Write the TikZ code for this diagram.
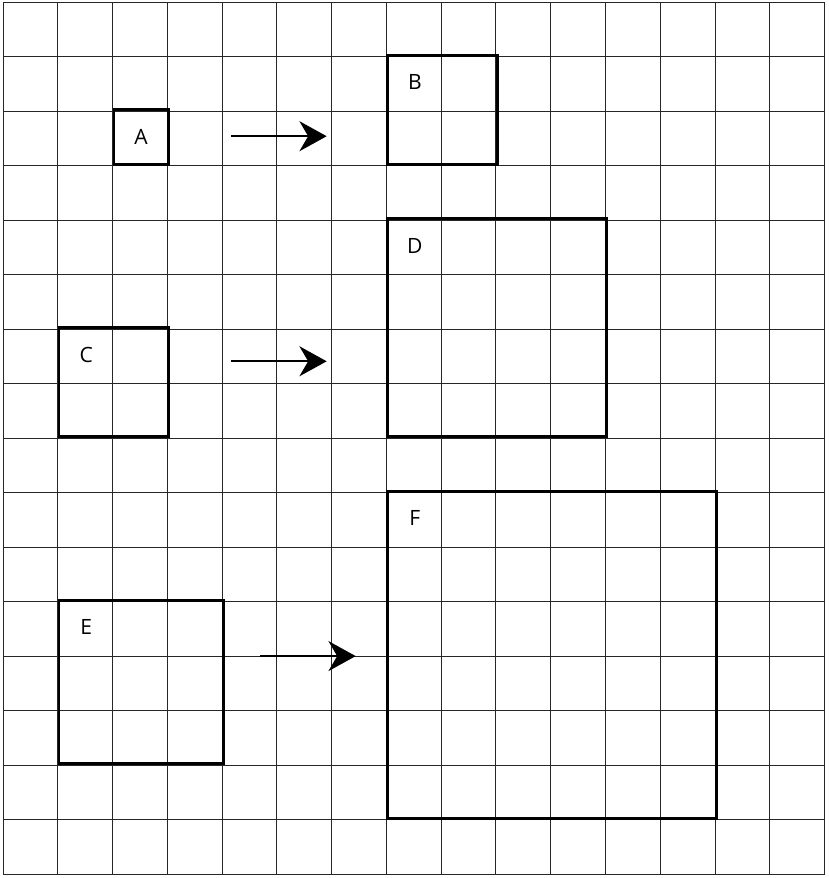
\documentclass[tikz,border=0pt]{standalone}
\usepackage{fontspec}
\setmainfont{Open Sans}
\usetikzlibrary{arrows.meta,positioning}
\newcommand{\CellWidth}{1.005}

\begin{document}
\begin{tikzpicture}[x=\CellWidth cm,
		square/.style={draw, line width=1.4pt, inner sep=0pt, anchor=south west},
		letter/.style={font=\fontsize{11}{13}\selectfont, inner sep=0pt},
		growarrow/.style={line width=1.2pt, -{Stealth[length=5mm, width=5.5mm, inset=1.6mm]}},
	]
	\useasboundingbox (-0.055,-0.072) rectangle (15.081,16.04);
	\draw[line width=0.5pt, black!85, step={(1,1)}] (0,0) grid (15,16);
	% squares
	\node[square, minimum width=\CellWidth*1 cm, minimum height=1 cm] (a) at (2,13) {};
	\node[square, minimum width=\CellWidth*2 cm, minimum height=2 cm] (b) at (7,13) {};
	\node[square, minimum width=\CellWidth*2 cm, minimum height=2 cm] (c) at (1,8) {};
	\node[square, minimum width=\CellWidth*4 cm, minimum height=4 cm] (d) at (7,8) {};
	\node[square, minimum width=\CellWidth*3 cm, minimum height=3 cm] (e) at (1,2) {};
	\node[square, minimum width=\CellWidth*6 cm, minimum height=6 cm] (f) at (7,1) {};
	% letters
	\node[letter] (la) at ([shift={(0.52,-0.52)}]a.north west) {A};
	\node[letter] (lb) at ([shift={(0.52,-0.52)}]b.north west) {B};
	\node[letter] (lc) at ([shift={(0.52,-0.52)}]c.north west) {C};
	\node[letter] (ld) at ([shift={(0.52,-0.52)}]d.north west) {D};
	\node[letter] (le) at ([shift={(0.52,-0.52)}]e.north west) {E};
	\node[letter] (lf) at ([shift={(0.52,-0.52)}]f.north west) {F};
	% arrows
	\coordinate (ab1) at (4.17,13.54);
	\coordinate[right=\CellWidth*1.74 cm of ab1] (ab2);
	\coordinate (cd1) at (4.17,9.41);
	\coordinate[right=\CellWidth*1.74 cm of cd1] (cd2);
	\coordinate (ef1) at (4.70,4);
	\coordinate[right=\CellWidth*1.74 cm of ef1] (ef2);
	\draw[growarrow] (ab1) -- (ab2);
	\draw[growarrow] (cd1) -- (cd2);
	\draw[growarrow] (ef1) -- (ef2);
\end{tikzpicture}
\end{document}
